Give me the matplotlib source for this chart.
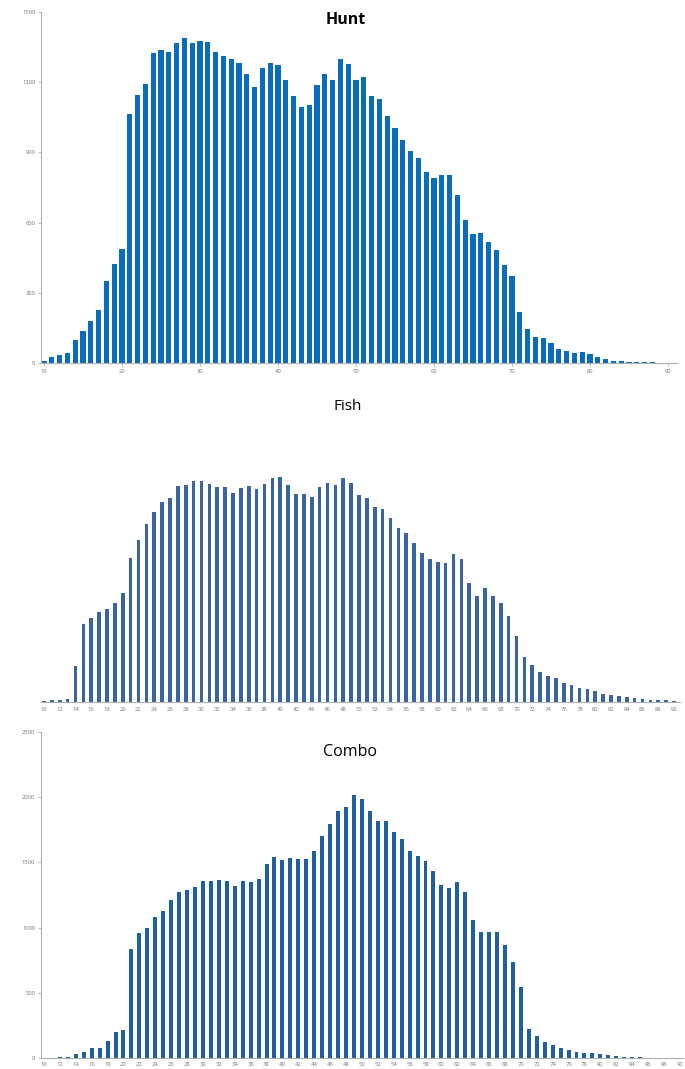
import matplotlib
matplotlib.use("Agg")
import matplotlib.pyplot as plt

plt.rcParams['font.family'] = ['Open Sans', 'DejaVu Sans']

# ages 10..90
ages = list(range(10, 91))

hunt = [9, 24, 33, 43, 97, 136, 181, 227, 349, 424,
        489, 1063, 1144, 1194, 1324, 1339, 1331, 1366, 1387, 1367,
        1376, 1371, 1329, 1310, 1299, 1284, 1233, 1181, 1259, 1283,
        1274, 1210, 1141, 1093, 1104, 1186, 1236, 1211, 1300, 1277,
        1209, 1221, 1141, 1127, 1057, 1006, 953, 904, 874, 817,
        789, 802, 802, 720, 610, 551, 557, 516, 484, 417,
        373, 217, 146, 110, 106, 84, 59, 53, 41, 47,
        39, 24, 19, 7, 8, 6, 3, 4, 4, 2, 1]

# fish has no value axis in the source; relative heights
fish = [5, 7, 7, 15, 177, 390, 420, 447, 462, 492,
        542, 720, 808, 887, 950, 1000, 1020, 1078, 1083, 1102,
        1105, 1088, 1075, 1073, 1045, 1067, 1077, 1065, 1087, 1120,
        1122, 1085, 1037, 1037, 1023, 1075, 1093, 1082, 1120, 1095,
        1033, 1017, 972, 965, 917, 868, 842, 793, 743, 715,
        700, 692, 740, 715, 592, 530, 570, 530, 495, 427,
        327, 222, 182, 147, 127, 117, 95, 83, 67, 63,
        52, 40, 35, 28, 22, 17, 12, 10, 10, 8, 5]

combo = [5, 5, 10, 8, 31, 51, 82, 82, 135, 204,
         214, 834, 960, 995, 1080, 1130, 1215, 1276, 1291, 1314,
         1360, 1360, 1363, 1358, 1319, 1360, 1347, 1370, 1485, 1539,
         1518, 1534, 1524, 1524, 1587, 1705, 1794, 1896, 1922, 2016,
         1985, 1896, 1820, 1820, 1730, 1677, 1587, 1549, 1508, 1434,
         1324, 1307, 1347, 1276, 1062, 967, 967, 967, 868, 735,
         546, 225, 168, 125, 102, 79, 64, 48, 41, 38,
         31, 23, 20, 13, 10, 8, 5, 3, 3, 2, 2]

W, H = 685, 1069
fig = plt.figure(figsize=(W / 100, H / 100), dpi=100)
fig.patch.set_facecolor('white')

grey = '#b0b0b0'
tick_col = '#777777'


def px_axes(left, top, right, bottom):
    return fig.add_axes([left / W, 1 - bottom / H, (right - left) / W, (bottom - top) / H])


def style(ax, show_y):
    for s in ['top', 'right']:
        ax.spines[s].set_visible(False)
    ax.spines['bottom'].set_color(grey)
    ax.spines['bottom'].set_linewidth(0.8)
    if show_y:
        ax.spines['left'].set_color(grey)
        ax.spines['left'].set_linewidth(0.8)
    else:
        ax.spines['left'].set_visible(False)
        ax.set_yticks([])
    ax.tick_params(axis='both', colors=grey, labelcolor=tick_col, labelsize=4.2,
                   length=2, width=0.6, pad=2)


# Hunt
ax1 = px_axes(41, 12, 677, 363)
ax1.bar(ages, hunt, width=0.68, color='#0b6cbc')
ax1.set_xlim(9.615, 91.15)
ax1.set_ylim(0, 1500)
ax1.set_yticks(range(0, 1501, 300))
ax1.set_xticks(range(10, 91, 10))
style(ax1, True)
fig.text(346 / W, 1 - 20 / H, 'Hunt', ha='center', va='center', fontsize=11.5, fontweight='bold')

# Fish
ax2 = px_axes(41, 430, 680, 701.7)
ax2.bar(ages, fish, width=0.45, color='#3a64a0')
ax2.set_xlim(9.62, 90.76)
ax2.set_ylim(0, 271.7 * 5)
ax2.set_xticks(range(10, 91, 2))
style(ax2, False)
ax2.tick_params(axis='x', length=0, pad=4)
fig.text(348 / W, 1 - 406 / H, 'Fish', ha='center', va='center', fontsize=11)

# Combo
ax3 = px_axes(40.7, 731.7, 683, 1058.3)
ax3.bar(ages, combo, width=0.5, color='#1f5f9e')
ax3.set_xlim(9.585, 90.4)
ax3.set_ylim(0, 2500)
ax3.set_yticks(range(0, 2501, 500))
ax3.set_xticks(range(10, 91, 2))
style(ax3, True)
ax3.tick_params(axis='x', length=0, pad=3)
fig.text(350 / W, 1 - 752 / H, 'Combo', ha='center', va='center', fontsize=11.5)

fig.savefig('out.png', dpi=100, facecolor='white')
